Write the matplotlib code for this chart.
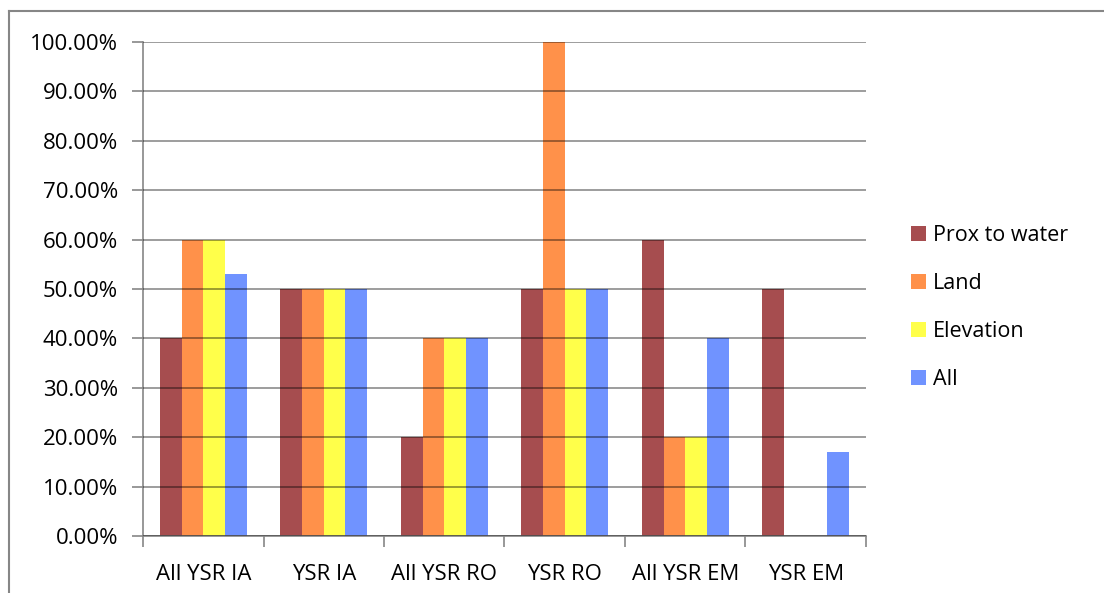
import matplotlib.pyplot as plt
from matplotlib.lines import Line2D
from matplotlib.ticker import FuncFormatter, FixedLocator
import numpy as np

categories = ["All YSR IA", "YSR IA", "All YSR RO", "YSR RO", "All YSR EM", "YSR EM"]
series = ["Prox to water", "Land", "Elevation", "All"]
prox = [40, 50, 20, 50, 60, 50]
land = [60, 50, 40, 100, 20, 0]
elev = [60, 50, 40, 50, 20, 0]
all_ = [53, 50, 40, 50, 40, 17]
colors = ["#A64D4F", "#FF914A", "#FFFF4A", "#7093FF"]

plt.rcParams['font.family'] = ['Open Sans', 'DejaVu Sans']

fig = plt.figure(figsize=(11.04, 5.93), dpi=100)
ax = fig.add_axes([143 / 1104, 1 - 536 / 593, (866 - 143) / 1104, (536 - 42) / 593])

x = np.arange(len(categories))
w = 0.18
for i, (vals, c) in enumerate(zip([prox, land, elev, all_], colors)):
    ax.bar(x + (i - 1.5) * w, vals, w, color=c, label=series[i], zorder=2)

ax.set_xlim(-0.5, len(categories) - 0.5)
ax.set_ylim(0, 100)
ax.set_yticks(np.arange(0, 101, 10))
ax.yaxis.set_major_formatter(FuncFormatter(lambda v, p: f"{v:.2f}%"))
ax.set_xticks(x)
ax.set_xticklabels(categories)
ax.xaxis.set_minor_locator(FixedLocator(np.arange(-0.5, len(categories), 1)))
ax.tick_params(axis='x', which='major', length=0, pad=20, labelsize=16)
ax.tick_params(axis='x', which='minor', length=8, color='#868686', width=1.2)
ax.tick_params(axis='y', length=8, color='#868686', width=1.2, labelsize=16, pad=10)

ax.grid(axis='y', color='black', alpha=0.45, linewidth=1.2, zorder=3)
ax.set_axisbelow(False)
for s in ['top', 'right']:
    ax.spines[s].set_visible(False)
for s in ['left', 'bottom']:
    ax.spines[s].set_color('#868686')
    ax.spines[s].set_linewidth(1.2)

leg = ax.legend(loc='center left', bbox_to_anchor=(1.035, 0.462), frameon=False,
                fontsize=15.5, handlelength=0.7, handleheight=0.7, handletextpad=0.35,
                labelspacing=1.25)

# outer border (top and left)
fig.add_artist(Line2D([9 / 1104, 1], [1 - 11 / 593, 1 - 11 / 593], color='#868686', lw=1.5))
fig.add_artist(Line2D([9 / 1104, 9 / 1104], [0, 1 - 11 / 593], color='#868686', lw=1.5))

fig.savefig("out.png", dpi=100)
